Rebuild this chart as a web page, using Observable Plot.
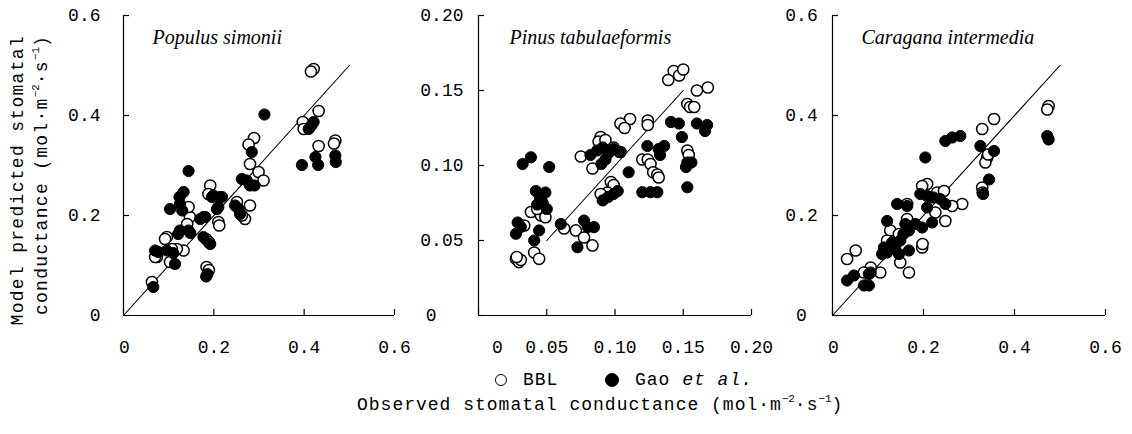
<!DOCTYPE html>
<html>
<head>
<meta charset="utf-8">
<script src="https://cdn.jsdelivr.net/npm/d3@7"></script>
<script src="https://cdn.jsdelivr.net/npm/@observablehq/plot@0.6"></script>
<style>
  html, body { margin: 0; padding: 0; background: #fff; }
  #wrap { position: relative; width: 1132px; height: 434px; overflow: hidden; font-family: "Liberation Mono", "DejaVu Sans Mono", monospace; color: #000; }
  #wrap svg { position: absolute; top: 0; }
  .ytitle { position: absolute; left: 6px; top: 337px; width: 302px; transform-origin: 0 0; transform: rotate(-90deg); font-size: 18px; letter-spacing: 1.3px; line-height: 24px; text-align: right; white-space: nowrap; }
  .xtitle { position: absolute; left: 357px; top: 393px; font-size: 18px; letter-spacing: 1px; white-space: nowrap; line-height: 24px; }
  .legend { position: absolute; top: 369px; left: 0; font-size: 18px; letter-spacing: 1px; white-space: nowrap; line-height: 22px; }
  .sym { position: absolute; width: 10px; height: 10px; border-radius: 50%; border: 1.5px solid #000; top: 5px; }
  sup { font-size: 0.6em; vertical-align: 0.7em; line-height: 0; letter-spacing: 0; }
</style>
</head>
<body>
<div id="wrap"></div>
<script>
// ---------- data: [observed, predicted] ----------
const populusBBL = [[0.421,0.493],[0.415,0.488],[0.432,0.409],[0.397,0.387],[0.399,0.373],[0.432,0.339],[0.469,0.350],[0.466,0.344],[0.289,0.355],[0.277,0.342],[0.280,0.303],[0.299,0.287],[0.310,0.270],[0.192,0.260],[0.188,0.243],[0.251,0.227],[0.280,0.220],[0.269,0.193],[0.262,0.200],[0.210,0.187],[0.212,0.180],[0.147,0.197],[0.141,0.183],[0.144,0.217],[0.183,0.153],[0.189,0.147],[0.096,0.157],[0.092,0.153],[0.133,0.130],[0.118,0.133],[0.107,0.133],[0.074,0.117],[0.070,0.117],[0.103,0.107],[0.184,0.097],[0.189,0.091],[0.063,0.067]];
const populusGao = [[0.312,0.402],[0.421,0.387],[0.410,0.373],[0.416,0.380],[0.395,0.301],[0.425,0.317],[0.431,0.301],[0.469,0.320],[0.470,0.307],[0.144,0.289],[0.133,0.247],[0.124,0.237],[0.214,0.237],[0.199,0.240],[0.196,0.237],[0.218,0.237],[0.103,0.213],[0.125,0.223],[0.130,0.210],[0.177,0.197],[0.181,0.197],[0.207,0.213],[0.210,0.217],[0.273,0.270],[0.280,0.260],[0.290,0.260],[0.284,0.327],[0.262,0.273],[0.255,0.213],[0.258,0.203],[0.247,0.220],[0.170,0.193],[0.125,0.170],[0.144,0.170],[0.121,0.163],[0.148,0.165],[0.077,0.127],[0.096,0.130],[0.110,0.125],[0.114,0.103],[0.177,0.157],[0.192,0.143],[0.183,0.078],[0.186,0.083],[0.066,0.057],[0.070,0.130]];
const pinusBBL = [[0.143,0.163],[0.147,0.160],[0.150,0.164],[0.139,0.157],[0.168,0.152],[0.160,0.150],[0.153,0.141],[0.155,0.139],[0.158,0.139],[0.111,0.131],[0.104,0.128],[0.107,0.125],[0.124,0.130],[0.124,0.127],[0.0895,0.119],[0.088,0.116],[0.075,0.106],[0.0835,0.098],[0.093,0.117],[0.099,0.112],[0.104,0.109],[0.120,0.104],[0.124,0.104],[0.126,0.101],[0.128,0.0955],[0.131,0.094],[0.132,0.092],[0.153,0.110],[0.154,0.107],[0.097,0.089],[0.099,0.087],[0.0945,0.082],[0.0895,0.081],[0.0384,0.069],[0.0457,0.0667],[0.049,0.0655],[0.043,0.071],[0.0335,0.060],[0.0627,0.058],[0.0713,0.0567],[0.0773,0.052],[0.0835,0.0467],[0.0408,0.042],[0.0444,0.0378],[0.0274,0.0378],[0.0296,0.0356],[0.031,0.037],[0.028,0.039]];
const pinusGao = [[0.0323,0.101],[0.0384,0.1055],[0.0518,0.099],[0.042,0.083],[0.045,0.079],[0.049,0.082],[0.047,0.075],[0.050,0.071],[0.043,0.074],[0.046,0.077],[0.0287,0.062],[0.031,0.059],[0.0274,0.0545],[0.0444,0.0567],[0.0408,0.050],[0.0603,0.061],[0.0773,0.0633],[0.0846,0.0589],[0.080,0.0589],[0.0725,0.0455],[0.082,0.107],[0.087,0.110],[0.091,0.112],[0.095,0.108],[0.093,0.104],[0.090,0.101],[0.099,0.111],[0.103,0.109],[0.091,0.0767],[0.095,0.079],[0.099,0.081],[0.102,0.083],[0.110,0.0955],[0.120,0.0822],[0.126,0.0822],[0.131,0.0822],[0.1237,0.113],[0.132,0.111],[0.136,0.113],[0.133,0.107],[0.141,0.129],[0.1468,0.128],[0.149,0.119],[0.160,0.128],[0.1675,0.127],[0.166,0.123],[0.153,0.102],[0.156,0.102],[0.152,0.099],[0.153,0.0855]];
const caraganaBBL = [[0.475,0.419],[0.472,0.412],[0.355,0.393],[0.329,0.373],[0.340,0.316],[0.336,0.306],[0.342,0.322],[0.329,0.256],[0.330,0.246],[0.208,0.263],[0.197,0.259],[0.230,0.246],[0.245,0.249],[0.285,0.223],[0.263,0.219],[0.226,0.206],[0.248,0.189],[0.197,0.136],[0.198,0.143],[0.164,0.223],[0.164,0.193],[0.127,0.170],[0.120,0.150],[0.146,0.163],[0.149,0.106],[0.168,0.086],[0.105,0.086],[0.084,0.096],[0.069,0.086],[0.032,0.113],[0.051,0.130]];
const caraganaGao = [[0.472,0.359],[0.475,0.352],[0.281,0.359],[0.263,0.356],[0.248,0.349],[0.204,0.316],[0.325,0.339],[0.355,0.329],[0.344,0.272],[0.331,0.243],[0.142,0.223],[0.164,0.219],[0.120,0.189],[0.193,0.243],[0.208,0.239],[0.222,0.236],[0.237,0.233],[0.248,0.223],[0.208,0.216],[0.219,0.186],[0.197,0.176],[0.160,0.183],[0.168,0.170],[0.156,0.163],[0.149,0.150],[0.138,0.139],[0.146,0.123],[0.134,0.134],[0.168,0.130],[0.113,0.136],[0.120,0.126],[0.109,0.123],[0.084,0.086],[0.080,0.083],[0.069,0.060],[0.080,0.060],[0.032,0.070],[0.047,0.080],[0.131,0.146],[0.182,0.183]];

// 1:1 reference lines (start, end)
const populusDiag = [0, 0.5];
const pinusDiag = [0.05, 0.15];
const caraganaDiag = [0, 0.5];

// ticks and tick labels
const ticks06 = [0, 0.2, 0.4, 0.6];
const labels06 = ["0", "0.2", "0.4", "0.6"];
const ticks02 = [0, 0.05, 0.10, 0.15, 0.20];
const labels02 = ["0", "0.05", "0.10", "0.15", "0.20"];

const speciesNames = ["Populus simonii", "Pinus tabulaeformis", "Caragana intermedia"];

// ---------- drawing ----------
const wrap = document.getElementById("wrap");
const mono = "'Liberation Mono', 'DejaVu Sans Mono', monospace";

function panel(opt) {
  const {left, marginLeft, innerW, bbl, gao, diag, xDomain, yDomain, xt, xl, yt, yl, name,
         yPad, yAnchor, yZeroPad, yZeroAnchor, xZeroDx, nameDx} = opt;
  const marginTop = 15, innerH = 300, marginBottom = 55, marginRight = 20;
  const fmt = (ticks, labels) => d => labels[ticks.indexOf(d)];
  const nonZeroX = xt.filter(d => d !== 0), nonZeroY = yt.filter(d => d !== 0);
  const chart = Plot.plot({
    width: marginLeft + innerW + marginRight,
    height: marginTop + innerH + marginBottom,
    marginLeft, marginRight, marginTop, marginBottom,
    x: {domain: xDomain},
    y: {domain: yDomain},
    style: {fontFamily: mono, fontSize: "18px", color: "#000", background: "transparent", overflow: "visible"},
    marks: [
      Plot.ruleX([xDomain[0]], {stroke: "#000", strokeWidth: 1.2}),
      Plot.ruleY([yDomain[0]], {stroke: "#000", strokeWidth: 1.2}),
      Plot.ruleY(yt, {stroke: "#000", strokeWidth: 1.2, insetRight: innerW - 6}),
      Plot.ruleX(xt, {stroke: "#000", strokeWidth: 1.2, insetTop: innerH - 6}),
      Plot.line(diag, {x: d => d, y: d => d, stroke: "#000", strokeWidth: 1.1}),
      Plot.dot(bbl, {x: d => d[0], y: d => d[1], r: 5.6, fill: "#fff", stroke: "#000", strokeWidth: 1.5}),
      Plot.dot(gao, {x: d => d[0], y: d => d[1], r: 5.6, fill: "#000", stroke: "#000", strokeWidth: 1}),
      Plot.axisX(nonZeroX, {tickSize: 0, tickPadding: 25, tickFormat: fmt(xt, xl), fontSize: 18}),
      Plot.axisX([0], {tickSize: 0, tickPadding: 25, tickFormat: fmt(xt, xl), dx: xZeroDx, fontSize: 18}),
      Plot.axisY(nonZeroY, {tickSize: 0, tickPadding: yPad, textAnchor: yAnchor, tickFormat: fmt(yt, yl), fontSize: 18}),
      Plot.axisY([0], {tickSize: 0, tickPadding: yZeroPad, textAnchor: yZeroAnchor, tickFormat: fmt(yt, yl), fontSize: 18}),
      Plot.text([name], {frameAnchor: "top-left", dx: nameDx, dy: 14, textAnchor: "start",
        fontFamily: "'Liberation Serif', 'DejaVu Serif', serif", fontStyle: "italic", fontSize: 20})
    ]
  });
  chart.style.left = left + "px";
  wrap.appendChild(chart);
}

panel({left: 0, marginLeft: 123, innerW: 271, bbl: populusBBL, gao: populusGao, diag: populusDiag,
  xDomain: [0, 0.6], yDomain: [0, 0.6], xt: ticks06, xl: labels06, yt: ticks06, yl: labels06,
  name: speciesNames[0], yPad: 23, yAnchor: "end", yZeroPad: 23, yZeroAnchor: "end", xZeroDx: 1, nameDx: 29});
panel({left: 418, marginLeft: 60, innerW: 273, bbl: pinusBBL, gao: pinusGao, diag: pinusDiag,
  xDomain: [0, 0.2], yDomain: [0, 0.2], xt: ticks02, xl: labels02, yt: ticks02, yl: labels02,
  name: speciesNames[1], yPad: 15, yAnchor: "end", yZeroPad: 42, yZeroAnchor: "end", xZeroDx: 19, nameDx: 31});
panel({left: 772, marginLeft: 60, innerW: 273, bbl: caraganaBBL, gao: caraganaGao, diag: caraganaDiag,
  xDomain: [0, 0.6], yDomain: [0, 0.6], xt: ticks06, xl: labels06, yt: ticks06, yl: labels06,
  name: speciesNames[2], yPad: 31, yAnchor: "middle", yZeroPad: 31, yZeroAnchor: "middle", xZeroDx: 1, nameDx: 29});

// y-axis title
const yt = document.createElement("div");
yt.className = "ytitle";
yt.innerHTML = "Model predicted stomatal<br>conductance (mol·m<sup>−2</sup>·s<sup>−1</sup>)";
wrap.appendChild(yt);

// legend
const lg = document.createElement("div");
lg.className = "legend";
lg.innerHTML =
  '<span class="sym" style="left:495px;background:#fff"></span>' +
  '<span style="position:absolute;left:523px">BBL</span>' +
  '<span class="sym" style="left:605px;background:#000;width:12px;height:12px;border-width:0.5px;top:4px"></span>' +
  '<span style="position:absolute;left:635px">Gao <i>et al.</i></span>';
wrap.appendChild(lg);

// x-axis title
const xt = document.createElement("div");
xt.className = "xtitle";
xt.innerHTML = "Observed stomatal conductance (mol·m<sup>−2</sup>·s<sup>−1</sup>)";
wrap.appendChild(xt);
</script>
</body>
</html>
